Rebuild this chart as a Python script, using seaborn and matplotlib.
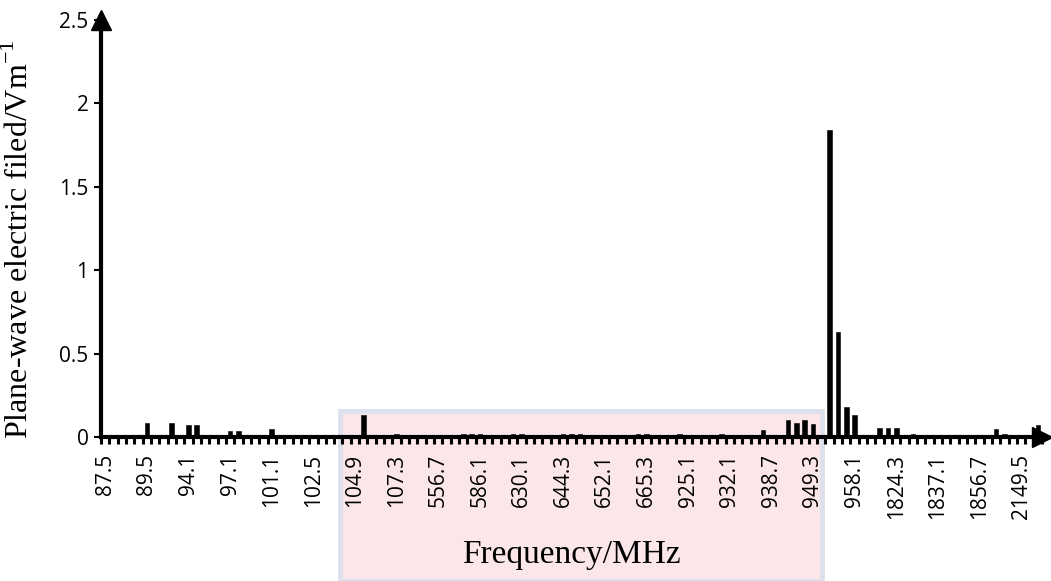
import numpy as np
import pandas as pd
import seaborn as sns
import matplotlib
matplotlib.use("Agg")
import matplotlib.pyplot as plt
from matplotlib.patches import Rectangle

# Measured plane-wave electric field (V/m) for each scanned channel, in sweep order
field_values = [
    0.0, 0.0, 0.0, 0.005, 0.01, 0.085, 0.005, 0.01, 0.085, 0.01,
    0.07, 0.07, 0.01, 0.005, 0.01, 0.035, 0.035, 0.01, 0.005, 0.005,
    0.045, 0.005, 0.005, 0.005, 0.005, 0.005, 0.005, 0.005, 0.005, 0.005,
    0.005, 0.13, 0.005, 0.005, 0.005, 0.02, 0.01, 0.005, 0.005, 0.005,
    0.005, 0.005, 0.005, 0.015, 0.02, 0.015, 0.01, 0.005, 0.005, 0.015,
    0.015, 0.01, 0.005, 0.005, 0.005, 0.015, 0.02, 0.015, 0.01, 0.005,
    0.005, 0.005, 0.005, 0.005, 0.015, 0.015, 0.005, 0.005, 0.005, 0.02,
    0.01, 0.01, 0.01, 0.005, 0.02, 0.005, 0.005, 0.005, 0.005, 0.04,
    0.005, 0.005, 0.1, 0.085, 0.1, 0.075, 0.01, 1.84, 0.63, 0.18,
    0.13, 0.005, 0.005, 0.055, 0.055, 0.055, 0.005, 0.02, 0.005, 0.005,
    0.005, 0.005, 0.01, 0.01, 0.005, 0.01, 0.01, 0.05, 0.02, 0.01,
    0.005, 0.01, 0.07,
]
channel = list(range(len(field_values)))

# Frequencies (MHz) printed under every fifth channel
tick_step = 5
tick_labels = [
    "87.5", "89.5", "94.1", "97.1", "101.1", "102.5", "104.9", "107.3",
    "556.7", "586.1", "630.1", "644.3", "652.1", "665.3", "925.1", "932.1",
    "938.7", "949.3", "958.1", "1824.3", "1837.1", "1856.7", "2149.5",
]

df = pd.DataFrame({"channel": channel, "field": field_values})

sns.set_theme(style="white")
plt.rcParams["font.family"] = ["Open Sans", "DejaVu Sans"]

fig = plt.figure(figsize=(10.51, 5.81), dpi=100)

# faint document stamp behind the lower axis area
stamp = Rectangle((340 / 1051, 0), (822 - 340) / 1051, (581 - 411) / 581,
                  transform=fig.transFigure, facecolor="#fbe6e9",
                  edgecolor="#dde1ed", linewidth=3.5, zorder=-10)
fig.patches.append(stamp)

ax = fig.add_axes([101 / 1051, (581 - 437) / 581, 941 / 1051, 417 / 581])
ax.set_zorder(1)
ax.patch.set_alpha(0)

sns.barplot(data=df, x="channel", y="field", color="black", saturation=1,
            width=0.55, order=channel, ax=ax, zorder=3)
for p in ax.patches:
    p.set_edgecolor("black")
    p.set_linewidth(0.4)

n = len(channel)
ax.set_xlim(-0.5, n - 0.5)
ax.set_ylim(0, 2.5)

# y axis
ax.set_yticks([0, 0.5, 1, 1.5, 2, 2.5])
ax.set_yticklabels(["0", "0.5", "1", "1.5", "2", "2.5"], fontsize=15)
ax.tick_params(axis="y", which="major", direction="out", length=5, width=1.5,
               color="black", pad=4, left=True, labelcolor="black")

# x axis: labels on every fifth channel, tick marks between channels
ax.set_xticks(range(0, n, tick_step))
ax.set_xticklabels(tick_labels, rotation=90, fontsize=15)
ax.tick_params(axis="x", which="major", length=0, pad=12, labelcolor="black")
ax.set_xticks(np.arange(-0.5, n, 1), minor=True)
ax.tick_params(axis="x", which="minor", direction="out", length=5, width=2.2,
               color="black", bottom=True)

for side in ("top", "right"):
    ax.spines[side].set_visible(False)
for side in ("left", "bottom"):
    ax.spines[side].set_color("black")
    ax.spines[side].set_linewidth(3)
    ax.spines[side].set_zorder(4)

# arrow heads at the ends of both axes
ax.plot(0, 1, marker="^", markersize=14, color="black",
        transform=ax.transAxes, clip_on=False, zorder=5)
ax.plot(1, 0, marker=">", markersize=14, color="black",
        transform=ax.transAxes, clip_on=False, zorder=5)

serif = ["Liberation Serif", "DejaVu Serif"]
ax.set_ylabel(r"Plane-wave electric filed/Vm$^{\mathregular{-1}}$",
              fontsize=23, family=serif, color="black")
ax.yaxis.set_label_coords(-0.087, 0.475)
ax.yaxis.label.set_va("center")
ax.set_xlabel("Frequency/MHz", fontsize=24, family=serif, color="black")
ax.xaxis.set_label_coords(0.5, -0.283)
ax.xaxis.label.set_va("center")

fig.savefig("out.png", dpi=100)
